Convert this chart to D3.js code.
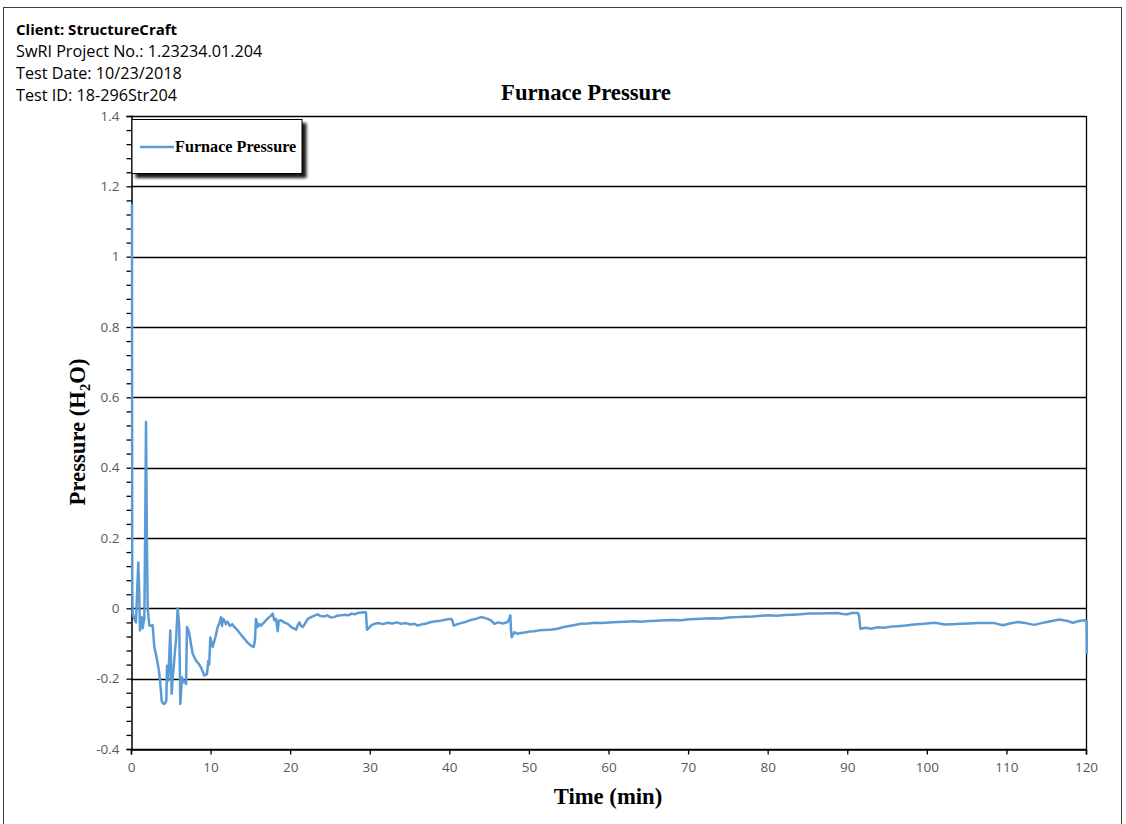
<!DOCTYPE html>
<html>
<head>
<meta charset="utf-8">
<script src="https://cdn.jsdelivr.net/npm/d3@7"></script>
<style>
  html, body { margin: 0; padding: 0; background: #fff; }
  svg { display: block; }
</style>
</head>
<body>
<svg id="chart" width="1126" height="824"></svg>
<script>
// ---- data ----
const headerLines = ["Client: StructureCraft", "SwRI Project No.: 1.23234.01.204", "Test Date: 10/23/2018", "Test ID: 18-296Str204"];
const chartTitle = "Furnace Pressure";
const seriesName = "Furnace Pressure";
const xTicks = [0, 10, 20, 30, 40, 50, 60, 70, 80, 90, 100, 110, 120];
const yTicks = [-0.4, -0.2, 0, 0.2, 0.4, 0.6, 0.8, 1, 1.2, 1.4];
const timeMin = [0, 0.03, 0.09, 0.3, 0.5, 0.65, 0.79, 0.9, 1.0, 1.1, 1.22, 1.34, 1.45, 1.55, 1.65, 1.76, 1.87, 1.97, 2.17, 2.4, 2.6, 2.8, 3.0, 3.23, 3.4, 3.56, 3.73, 3.9, 4.06, 4.2, 4.31, 4.4, 4.48, 4.56, 4.81, 4.99, 5.1, 5.24, 5.4, 5.53, 5.74, 5.85, 5.94, 6.07, 6.28, 6.45, 6.57, 6.79, 6.91, 7.05, 7.2, 7.4, 7.63, 8.04, 8.3, 8.67, 9.09, 9.42, 9.59, 9.7, 9.84, 10.14, 10.5, 10.77, 11.0, 11.18, 11.3, 11.45, 11.6, 11.8, 12.0, 12.3, 12.6, 12.85, 13.28, 13.7, 14.11, 14.5, 14.95, 15.29, 15.45, 15.58, 15.8, 16.0, 16.21, 16.6, 17.0, 17.4, 17.68, 17.88, 18.1, 18.31, 18.45, 18.72, 19.1, 19.57, 20.1, 20.39, 20.61, 20.8, 21.02, 21.24, 21.45, 21.7, 22.08, 22.5, 23.0, 23.34, 23.7, 24.16, 24.5, 25.0, 25.42, 25.8, 26.26, 26.7, 27.2, 27.6, 28.0, 28.36, 28.8, 29.19, 29.4, 29.53, 29.8, 30.1, 30.45, 31.0, 31.5, 32.13, 32.7, 33.3, 33.8, 34.4, 35.0, 35.5, 35.9, 36.5, 37.0, 37.57, 38.2, 38.8, 39.5, 40.09, 40.25, 40.42, 40.9, 41.34, 42.0, 42.6, 43.2, 43.85, 44.3, 44.7, 45.11, 45.53, 46.0, 46.6, 47.21, 47.4, 47.54, 47.62, 47.71, 48.04, 48.4, 48.88, 49.5, 50.0, 50.55, 51.3, 52.24, 52.8, 53.49, 54.1, 54.75, 55.5, 56.42, 57.3, 58.2, 59.0, 60.0, 61.0, 62.0, 63.0, 64.0, 65.0, 66.0, 67.0, 68.0, 69.0, 70.0, 71.0, 72.0, 73.0, 74.0, 75.0, 76.0, 77.0, 78.0, 79.0, 80.0, 81.0, 82.0, 83.0, 84.0, 85.0, 86.58, 87.5, 88.68, 89.3, 89.94, 90.5, 91.19, 91.35, 91.52, 92.2, 92.86, 93.7, 94.53, 95.4, 96.22, 97.2, 98.3, 99.5, 100.82, 101.5, 102.07, 103.1, 104.17, 105.2, 106.27, 107.3, 108.36, 109.41, 110.3, 111.3, 112.3, 113.38, 114.64, 115.6, 116.52, 117.4, 118.21, 119.0, 119.67, 119.95, 120.0];
const pressure = [1.15, 0.05, -0.015, -0.03, -0.04, 0.05, 0.13, 0.05, -0.063, -0.03, -0.025, -0.057, -0.04, -0.03, 0.2, 0.53, 0.2, 0.0, -0.048, -0.05, -0.048, -0.11, -0.13, -0.157, -0.18, -0.215, -0.263, -0.27, -0.272, -0.268, -0.263, -0.163, -0.19, -0.206, -0.063, -0.243, -0.2, -0.168, -0.12, -0.091, 0.0, -0.03, -0.053, -0.272, -0.196, -0.21, -0.206, -0.215, -0.053, -0.06, -0.072, -0.1, -0.129, -0.149, -0.155, -0.168, -0.191, -0.187, -0.149, -0.16, -0.083, -0.11, -0.08, -0.053, -0.04, -0.025, -0.05, -0.03, -0.034, -0.045, -0.038, -0.05, -0.045, -0.053, -0.063, -0.075, -0.086, -0.097, -0.106, -0.11, -0.09, -0.03, -0.053, -0.045, -0.049, -0.04, -0.03, -0.022, -0.015, -0.034, -0.03, -0.065, -0.035, -0.034, -0.04, -0.044, -0.055, -0.058, -0.061, -0.05, -0.04, -0.05, -0.053, -0.045, -0.03, -0.025, -0.02, -0.017, -0.022, -0.023, -0.02, -0.026, -0.025, -0.021, -0.02, -0.018, -0.02, -0.015, -0.017, -0.013, -0.012, -0.011, -0.012, -0.061, -0.055, -0.048, -0.044, -0.042, -0.045, -0.041, -0.043, -0.04, -0.044, -0.042, -0.046, -0.044, -0.049, -0.045, -0.043, -0.039, -0.037, -0.035, -0.032, -0.03, -0.034, -0.049, -0.045, -0.042, -0.038, -0.033, -0.03, -0.025, -0.027, -0.03, -0.034, -0.044, -0.04, -0.043, -0.039, -0.03, -0.02, -0.06, -0.082, -0.068, -0.072, -0.07, -0.068, -0.066, -0.065, -0.062, -0.061, -0.06, -0.058, -0.054, -0.051, -0.048, -0.044, -0.043, -0.041, -0.042, -0.04, -0.039, -0.038, -0.037, -0.038, -0.036, -0.035, -0.034, -0.033, -0.034, -0.031, -0.03, -0.029, -0.028, -0.029, -0.026, -0.025, -0.024, -0.023, -0.021, -0.02, -0.021, -0.019, -0.018, -0.017, -0.015, -0.015, -0.014, -0.013, -0.016, -0.017, -0.013, -0.013, -0.02, -0.058, -0.055, -0.058, -0.054, -0.055, -0.052, -0.051, -0.049, -0.046, -0.044, -0.041, -0.043, -0.046, -0.045, -0.044, -0.043, -0.042, -0.042, -0.042, -0.048, -0.043, -0.039, -0.042, -0.047, -0.04, -0.036, -0.032, -0.035, -0.041, -0.036, -0.034, -0.036, -0.13];

// ---- layout ----
const svg = d3.select("#chart");
const m = { left: 131, right: 1086, top: 116, bottom: 749 };
const x = d3.scaleLinear().domain([0, 120]).range([m.left, m.right]);
const y = d3.scaleLinear().domain([-0.4, 1.4]).range([m.bottom, m.top]);

const sansFont = "'Open Sans', Lato, sans-serif";
const serifFont = "'Liberation Serif', 'DejaVu Serif', serif";
const fmtNum = d => String(+d.toFixed(1));

// outer frame
svg.append("rect").attr("x", 3.5).attr("y", 7.5).attr("width", 1118).attr("height", 820)
  .attr("fill", "#fff").attr("stroke", "#404040").attr("stroke-width", 1);

// header text
const header = svg.append("g").attr("font-family", sansFont).attr("fill", "#000");
headerLines.forEach((t, i) => {
  header.append("text").attr("x", 16).attr("y", 35 + i * 22).text(t)
    .attr("font-size", i === 0 ? 15 : 16.2)
    .attr("font-weight", i === 0 ? "bold" : "normal");
});

// title
svg.append("text").attr("x", 586).attr("y", 100).attr("text-anchor", "middle")
  .attr("font-family", serifFont).attr("font-weight", "bold").attr("font-size", 22.7).text(chartTitle);

// gridlines
svg.append("g").selectAll("line").data(yTicks).join("line")
  .attr("x1", m.left).attr("x2", m.right)
  .attr("y1", d => Math.round(y(d)) + 0.5).attr("y2", d => Math.round(y(d)) + 0.5)
  .attr("stroke", "#000").attr("stroke-width", 1.3);

// right border
svg.append("line").attr("x1", Math.round(x(120)) + 0.5).attr("x2", Math.round(x(120)) + 0.5)
  .attr("y1", m.top).attr("y2", m.bottom).attr("stroke", "#000").attr("stroke-width", 1.3);

// y axis with minor ticks
const yMinor = d3.range(-0.4, 1.4001, 0.04);
const yAxisG = svg.append("g").attr("transform", `translate(${m.left + 0.5},0)`);
yAxisG.call(d3.axisLeft(y).tickValues(yMinor).tickSize(5).tickFormat(""));
yAxisG.select(".domain").attr("stroke", "#000").attr("stroke-width", 1.5);
yAxisG.selectAll(".tick line").attr("stroke", "#000").attr("stroke-width", 1.3);
const yLabG = svg.append("g").attr("transform", `translate(${m.left + 0.5},0)`);
yLabG.call(d3.axisLeft(y).tickValues(yTicks).tickSize(0).tickPadding(12).tickFormat(fmtNum));
yLabG.select(".domain").remove();
yLabG.selectAll("text").attr("font-family", sansFont).attr("font-size", 13.5).attr("fill", "#595959");

// x axis
const xAxisG = svg.append("g").attr("transform", `translate(0,${Math.round(y(-0.4)) + 0.5})`);
xAxisG.call(d3.axisBottom(x).tickValues(xTicks).tickSize(5).tickPadding(8).tickFormat(fmtNum));
xAxisG.select(".domain").attr("stroke", "#000").attr("stroke-width", 1.5);
xAxisG.selectAll(".tick line").attr("stroke", "#000").attr("stroke-width", 1.3);
xAxisG.selectAll("text").attr("font-family", sansFont).attr("font-size", 13.5).attr("fill", "#595959");

// axis titles
svg.append("text").attr("x", 608).attr("y", 804).attr("text-anchor", "middle")
  .attr("font-family", serifFont).attr("font-weight", "bold").attr("font-size", 22.7).text("Time (min)");
const yt = svg.append("text").attr("transform", "translate(84.5,432) rotate(-90)").attr("text-anchor", "middle")
  .attr("font-family", serifFont).attr("font-weight", "bold").attr("font-size", 22.7);
yt.append("tspan").text("Pressure (H");
yt.append("tspan").attr("font-size", 14.5).attr("dy", 5).text("2");
yt.append("tspan").attr("dy", -5).text("O)");

// series line
const data = timeMin.map((t, i) => ({ t, p: pressure[i] }));
svg.append("defs").html(`
  <clipPath id="plotClip"><rect x="${m.left - 2}" y="${m.top - 2}" width="${m.right - m.left + 4}" height="${m.bottom - m.top + 4}"/></clipPath>
  <filter id="shadow" x="-20%" y="-30%" width="140%" height="170%">
    <feGaussianBlur in="SourceAlpha" stdDeviation="1.6"/>
    <feOffset dx="4" dy="4" result="ob"/>
    <feComponentTransfer><feFuncA type="linear" slope="0.9"/></feComponentTransfer>
    <feMerge><feMergeNode/><feMergeNode in="SourceGraphic"/></feMerge>
  </filter>`);
svg.append("g").attr("clip-path", "url(#plotClip)")
  .append("path").datum(data)
  .attr("transform", "translate(1,0)")
  .attr("fill", "none").attr("stroke", "#5B9BD5").attr("stroke-width", 2.5)
  .attr("stroke-linejoin", "round")
  .attr("d", d3.line().x(d => x(d.t)).y(d => y(d.p)));

// legend
const lg = svg.append("g");
lg.append("rect").attr("x", 132).attr("y", 119.5).attr("width", 170).attr("height", 54)
  .attr("fill", "#fff").attr("stroke", "#000").attr("stroke-width", 1).attr("filter", "url(#shadow)");
lg.append("line").attr("x1", 140).attr("x2", 174).attr("y1", 147).attr("y2", 147)
  .attr("stroke", "#5B9BD5").attr("stroke-width", 2.5);
lg.append("text").attr("x", 175).attr("y", 152).attr("font-family", serifFont)
  .attr("font-weight", "bold").attr("font-size", 16.2).text(seriesName);
</script>
</body>
</html>
